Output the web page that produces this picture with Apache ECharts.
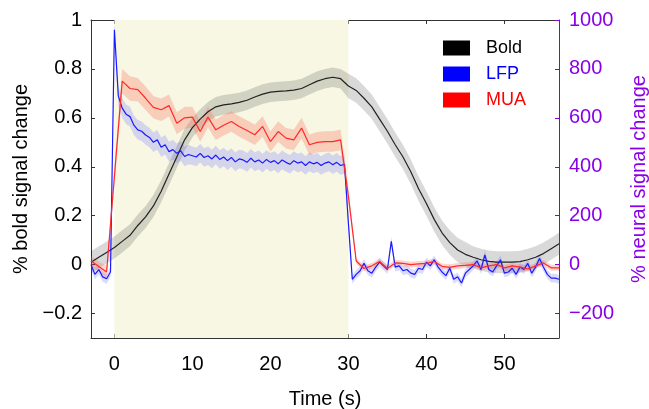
<!DOCTYPE html>
<html>
<head>
<meta charset="utf-8">
<script src="https://cdn.jsdelivr.net/npm/echarts@6/dist/echarts.min.js"></script>
<style>html,body{margin:0;padding:0;background:#fff}#c{width:649px;height:409px}</style>
</head>
<body>
<div id="c"></div>
<script>
// ---- data ----
const xTicks = [0, 10, 20, 30, 40, 50];
const leftTicks = [-0.2, 0, 0.2, 0.4, 0.6, 0.8, 1];
const rightTicks = [-200, 0, 200, 400, 600, 800, 1000];
const stimulus = [0, 30];

// 1 s sampling, t = -3 .. 57
const boldTime = Array.from({length: 61}, (_, i) => -3 + i);
const boldValues = [0.01, 0.03, 0.05,
  0.07, 0.095, 0.12, 0.16, 0.195, 0.24, 0.30, 0.37, 0.44, 0.51,
  0.56, 0.595, 0.625, 0.645, 0.653, 0.657, 0.663, 0.672, 0.685, 0.697,
  0.705, 0.708, 0.71, 0.713, 0.72, 0.735, 0.75, 0.76, 0.766, 0.76,
  0.73, 0.712, 0.68, 0.645, 0.595, 0.545, 0.49, 0.44, 0.38, 0.31,
  0.25, 0.185, 0.13, 0.09, 0.06, 0.042, 0.03, 0.02, 0.013, 0.01,
  0.01, 0.01, 0.012, 0.02, 0.03, 0.045, 0.065, 0.085];
const boldErr = [0.045, 0.045, 0.045,
  0.045, 0.045, 0.045, 0.045, 0.045, 0.045, 0.045, 0.045, 0.045, 0.045,
  0.04, 0.04, 0.04, 0.04, 0.04, 0.04, 0.04, 0.04, 0.04, 0.04,
  0.04, 0.04, 0.04, 0.04, 0.04, 0.04, 0.04, 0.04, 0.04, 0.04,
  0.05, 0.05, 0.05, 0.05, 0.05, 0.05, 0.05, 0.05, 0.05, 0.05,
  0.05, 0.05, 0.05, 0.05, 0.05, 0.05, 0.045, 0.045, 0.045, 0.045,
  0.045, 0.045, 0.045, 0.045, 0.045, 0.045, 0.045, 0.045];

const muaTime = Array.from({length: 61}, (_, i) => -3 + i);
const muaValues = [15, -8, -30,
  360, 750, 720, 715, 680, 643, 633, 650, 578, 600,
  603, 544, 603, 551, 570, 585, 565, 548, 531, 565,
  503, 544, 517, 510, 558, 490, 500, 503, 503, 510,
  280, 15, -16, -5, 13, -16, 7, 5, 0, 3,
  5, 13, -7, -11, -5, -3, 0, -13, -5, 0,
  -13, -5, -10, -18, -5, 7, -13, -13];
const muaErr = [20, 20, 25,
  40, 50, 50, 48, 48, 46, 46, 45, 45, 45,
  42, 42, 42, 42, 42, 42, 42, 42, 42, 42,
  42, 42, 42, 42, 42, 42, 42, 42, 42, 42,
  30, 12, 12, 12, 12, 12, 12, 12, 12, 12,
  12, 12, 12, 12, 12, 12, 12, 12, 12, 12,
  12, 12, 12, 12, 12, 12, 12, 12];

// 0.5 s sampling, t = -3 .. 57
const lfpTime = Array.from({length: 121}, (_, i) => -3 + i * 0.5);
const lfpValues = [0, -40, -20, -50, -58, -30,
  960, 690, 640, 615, 605, 570, 551, 545, 530, 520,
  500, 510, 480, 490, 462, 470, 455, 465, 442, 450,
  445, 440, 455, 438, 445, 432, 448, 430, 440, 425,
  438, 420, 432, 428, 418, 435, 420, 428, 415, 430,
  418, 425, 412, 428, 418, 410, 425, 415, 420, 405,
  420, 412, 418, 405, 415, 420, 408, 418, 405, 410,
  170, -60, -40, -25, 5, -25, -35, -10, 10, -5,
  -20, 95, -10, -5, -25, -20, -35, -40, -15, -20,
  10, -5, 20, -10, -30, -45, -15, -60, -50, -75,
  -35, -20, -5, 15, -20, 40, -20, -30, -5, 20,
  -35, -30, -15, -40, -10, -20, 5, -35, -10, 25,
  -10, -40, -55, -55, -60];
const lfpErr = [20, 20, 20, 20, 20, 20,
  30, 40, 40, 40, 40, 40, 40, 40, 40, 40,
  40, 40, 40, 40, 40, 40, 40, 40, 40, 40,
  38, 38, 38, 38, 38, 38, 38, 38, 38, 38,
  38, 38, 38, 38, 38, 38, 38, 38, 38, 38,
  38, 38, 38, 38, 38, 38, 38, 38, 38, 38,
  38, 38, 38, 38, 38, 38, 38, 38, 38, 38,
  30, 18, 18, 18, 18, 18, 18, 18, 18, 18,
  18, 18, 18, 18, 18, 18, 18, 18, 18, 18,
  18, 18, 18, 18, 18, 18, 18, 18, 18, 18,
  18, 18, 18, 18, 18, 18, 18, 18, 18, 18,
  18, 18, 18, 18, 18, 18, 18, 18, 18, 18,
  18, 18, 18, 18, 18];

// ---- chart ----
const FONT = 'Liberation Sans, Arial, Helvetica, sans-serif';
const PURPLE = '#8a00e6';
const fmt = v => String(v).replace('-', '\u2212');

function band(times, vals, errs, yIdx, color) {
  return {
    type: 'custom', xAxisIndex: 0, yAxisIndex: yIdx, silent: true, z: 2, clip: true,
    data: [[times[0], vals[0]]],
    renderItem: (params, api) => {
      const pts = [];
      for (let i = 0; i < times.length; i++) pts.push(api.coord([times[i], vals[i] + errs[i]]));
      for (let i = times.length - 1; i >= 0; i--) pts.push(api.coord([times[i], vals[i] - errs[i]]));
      return {type: 'polygon', shape: {points: pts}, style: {fill: color}};
    }
  };
}
function zip(t, v) { return t.map((x, i) => [x, v[i]]); }

const chart = echarts.init(document.getElementById('c'), null, {renderer: 'canvas'});
chart.setOption({
  animation: false,
  textStyle: {fontFamily: FONT},
  grid: {left: 91, right: 90, top: 20, bottom: 71, containLabel: false, outerBoundsMode: 'none'},
  legend: {
    data: [
      {name: 'Bold', textStyle: {color: '#000'}},
      {name: 'LFP', textStyle: {color: '#0000ff'}},
      {name: 'MUA', textStyle: {color: '#ff0000'}}
    ],
    orient: 'vertical', left: 438, top: 34, padding: 5, icon: 'rect',
    itemWidth: 27, itemHeight: 15, itemGap: 8,
    textStyle: {fontSize: 18, fontFamily: FONT, padding: [0, 0, 0, 11]}
  },
  xAxis: [{
    type: 'value', min: -3, max: 57, position: 'bottom',
    name: 'Time (s)', nameLocation: 'middle', nameGap: 51,
    nameTextStyle: {fontSize: 20, color: '#000', fontFamily: FONT},
    axisLine: {show: true, onZero: false, lineStyle: {color: '#333', width: 1}},
    axisTick: {show: true, inside: true, length: 4, customValues: xTicks, lineStyle: {color: '#333'}},
    axisLabel: {show: true, customValues: xTicks, fontSize: 20, color: '#000', margin: 16, fontFamily: FONT, formatter: fmt},
    splitLine: {show: false}
  }, {
    type: 'value', min: -3, max: 57, position: 'top',
    axisLine: {show: true, onZero: false, lineStyle: {color: '#333', width: 1}},
    axisTick: {show: true, inside: true, length: 4, customValues: xTicks, lineStyle: {color: '#333'}},
    axisLabel: {show: false},
    splitLine: {show: false}
  }],
  yAxis: [{
    type: 'value', min: -0.3, max: 1, position: 'left',
    name: '% bold signal change', nameLocation: 'middle', nameGap: 58,
    nameTextStyle: {fontSize: 20, color: '#000', fontFamily: FONT},
    axisLine: {show: true, onZero: false, lineStyle: {color: '#333', width: 1}},
    axisTick: {show: true, inside: true, length: 4, customValues: leftTicks, lineStyle: {color: '#333'}},
    axisLabel: {customValues: leftTicks, fontSize: 20, color: '#000', margin: 9, fontFamily: FONT, formatter: fmt},
    splitLine: {show: false}
  }, {
    type: 'value', min: -300, max: 1000, position: 'right',
    name: '% neural signal change', nameLocation: 'middle', nameGap: 70,
    nameTextStyle: {fontSize: 20, color: PURPLE, fontFamily: FONT},
    axisLine: {show: true, onZero: false, lineStyle: {color: PURPLE, width: 1}},
    axisTick: {show: true, inside: true, length: 4, customValues: rightTicks, lineStyle: {color: PURPLE}},
    axisLabel: {customValues: rightTicks, fontSize: 20, color: PURPLE, margin: 10, fontFamily: FONT, formatter: fmt},
    splitLine: {show: false}
  }],
  series: [
    {
      type: 'custom', xAxisIndex: 0, yAxisIndex: 0, silent: true, z: 1, clip: true,
      data: [[stimulus[0], 0]],
      renderItem: (params, api) => {
        const p0 = api.coord([stimulus[0], 1]);
        const p1 = api.coord([stimulus[1], -0.3]);
        return {type: 'rect', shape: {x: p0[0], y: p0[1], width: p1[0] - p0[0], height: p1[1] - p0[1]}, style: {fill: '#f7f7e4'}};
      }
    },
    band(boldTime, boldValues, boldErr, 0, 'rgba(0,0,0,0.15)'),
    band(lfpTime, lfpValues, lfpErr, 1, 'rgba(90,90,255,0.22)'),
    band(muaTime, muaValues, muaErr, 1, 'rgba(250,100,80,0.28)'),
    {
      name: 'Bold', type: 'line', xAxisIndex: 0, yAxisIndex: 0, z: 5,
      data: zip(boldTime, boldValues), showSymbol: false, symbol: 'none',
      color: '#000', lineStyle: {color: '#222', width: 1.2}
    },
    {
      name: 'LFP', type: 'line', xAxisIndex: 0, yAxisIndex: 1, z: 5,
      data: zip(lfpTime, lfpValues), showSymbol: false, symbol: 'none',
      color: '#0000ff', lineStyle: {color: '#1a1aff', width: 1.2}
    },
    {
      name: 'MUA', type: 'line', xAxisIndex: 0, yAxisIndex: 1, z: 5,
      data: zip(muaTime, muaValues), showSymbol: false, symbol: 'none',
      color: '#ff0000', lineStyle: {color: '#ff2a2a', width: 1.2}
    }
  ]
});
</script>
</body>
</html>
